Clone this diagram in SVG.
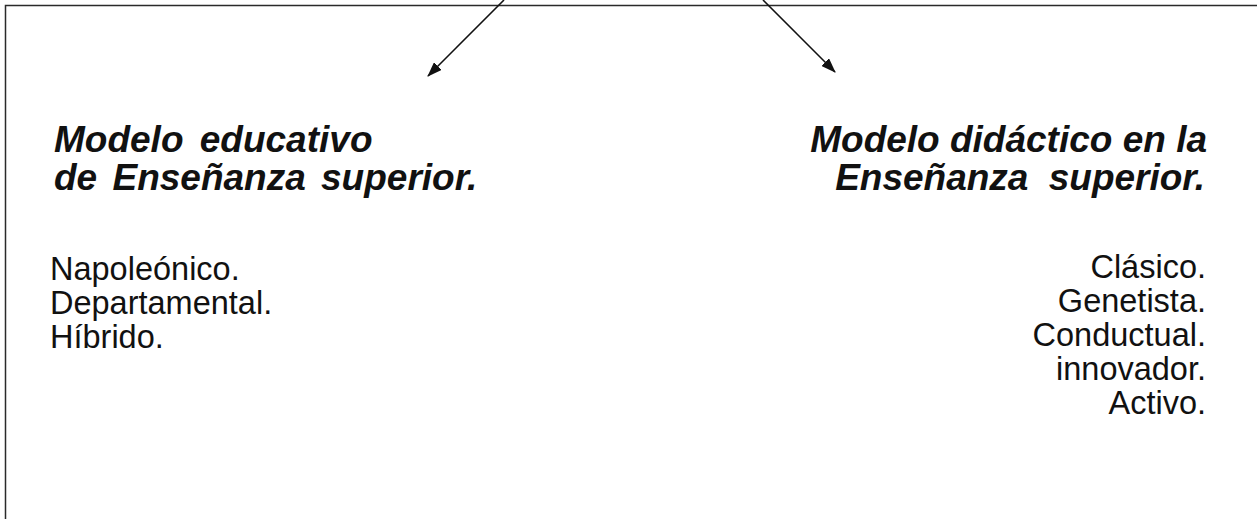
<svg xmlns="http://www.w3.org/2000/svg" width="1257" height="519" viewBox="0 0 1257 519">
  <style>
    .frame { fill: none; stroke: #2a2a2a; stroke-width: 1.5; }
    .link { fill: none; stroke: #111; stroke-width: 1.6; }
    .head { font-family: "Liberation Sans", Arial, sans-serif; font-weight: bold; font-style: italic; font-size: 37px; fill: #111; }
    .item { font-family: "Liberation Sans", Arial, sans-serif; font-size: 32.5px; fill: #111; }
    .end { text-anchor: end; }
  </style>
  <defs>
    <marker id="arrow" viewBox="0 0 15 11" refX="14" refY="5.5" markerWidth="15" markerHeight="11" markerUnits="userSpaceOnUse" orient="auto">
      <path d="M0,0 L15,5.5 L0,11 Z" fill="#111"/>
    </marker>
  </defs>

  <rect width="1257" height="519" fill="#fff"/>

  <!-- outer frame: top and left edges only -->
  <path class="frame" d="M5.5,530 V5.5 H1257"/>

  <g id="connectors">
    <line class="link" x1="504" y1="0" x2="428" y2="76" marker-end="url(#arrow)"/>
    <line class="link" x1="763" y1="0" x2="835" y2="72" marker-end="url(#arrow)"/>
  </g>

  <g id="modelo-educativo">
    <text class="head" x="54" y="152" word-spacing="6">Modelo educativo</text>
    <text class="head" x="54" y="190" word-spacing="5">de Enseñanza superior.</text>
    <text class="item" x="50" y="280">Napoleónico.</text>
    <text class="item" x="50" y="314">Departamental.</text>
    <text class="item" x="50" y="348">Híbrido.</text>
  </g>

  <g id="modelo-didactico">
    <text class="head end" x="1207" y="152">Modelo didáctico en la</text>
    <text class="head end" x="1205" y="190" word-spacing="10">Enseñanza superior.</text>
    <text class="item end" x="1206" y="278">Clásico.</text>
    <text class="item end" x="1206" y="312">Genetista.</text>
    <text class="item end" x="1206" y="346">Conductual.</text>
    <text class="item end" x="1206" y="380">innovador.</text>
    <text class="item end" x="1206" y="414">Activo.</text>
  </g>
</svg>
